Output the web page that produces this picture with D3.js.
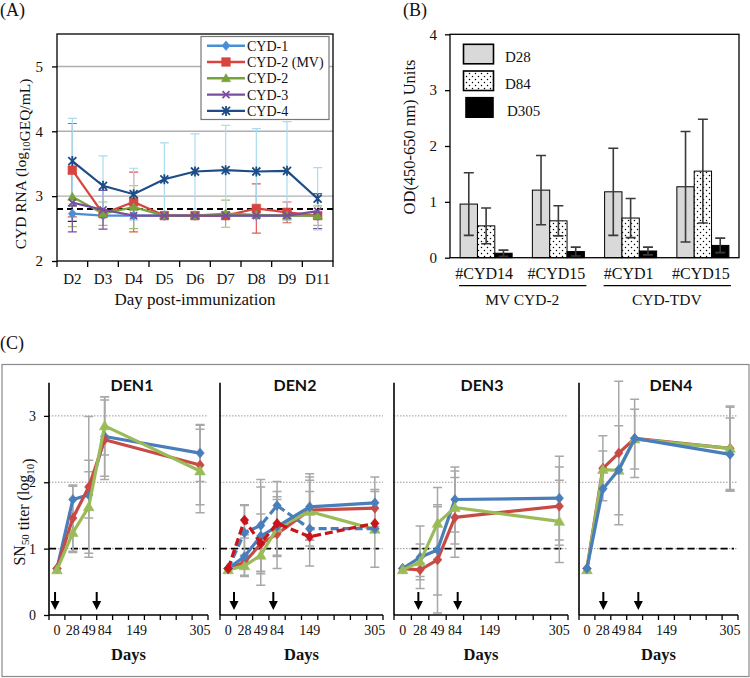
<!DOCTYPE html>
<html><head><meta charset="utf-8">
<script src="https://cdn.jsdelivr.net/npm/d3@7"></script>
<style>body{margin:0;background:#fff} svg{display:block;font-family:"Liberation Serif","Times New Roman",serif} text{fill:#111}</style>
</head><body><svg id="c" width="750" height="678"></svg>
<script>
// ================= DATA =================
// Panel A : viremia
const aDays = ["D2","D3","D4","D5","D6","D7","D8","D9","D11"];
const aNames = ["CYD-1","CYD-2 (MV)","CYD-2","CYD-3","CYD-4"];
const aCyd1     = [2.73,2.70,2.70,2.70,2.70,2.70,2.70,2.70,2.70];
const aCyd1Err  = [0.12,0,0,0,0,0,0,0,0];
const aCyd2mv   = [3.40,2.73,2.91,2.70,2.70,2.70,2.81,2.75,2.70];
const aCyd2mvErr= [0.72,0,0.46,0,0,0,0.38,0.16,0.05];
const aCyd2     = [2.99,2.73,2.83,2.70,2.70,2.73,2.71,2.70,2.70];
const aCyd2Err  = [0.46,0.18,0.33,0,0,0.21,0,0.07,0.15];
const aCyd3     = [2.90,2.79,2.70,2.70,2.70,2.70,2.70,2.70,2.77];
const aCyd3Err  = [0.45,0.30,0,0,0,0,0,0,0.27];
const aCyd4     = [3.54,3.16,3.03,3.26,3.38,3.40,3.38,3.39,2.96];
const aCyd4Err  = [0.66,0.46,0.40,0.56,0.58,0.69,0.66,0.76,0.48];
const aYTicks = [2,3,4,5];
const aThreshold = 2.8;

// Panel B : ELISA
const bGroups = ["#CYD14","#CYD15","#CYD1","#CYD15"];
const bVaccines = ["MV CYD-2","CYD-TDV"];
const bTimepoints = ["D28","D84","D305"];
const bD28     = [0.96,1.21,1.18,1.27];
const bD28Err  = [0.56,0.62,0.78,0.99];
const bD84     = [0.57,0.66,0.71,1.55];
const bD84Err  = [0.32,0.27,0.35,0.93];
const bD305    = [0.08,0.11,0.12,0.22];
const bD305Err = [0.055,0.08,0.07,0.13];
const bYTicks = [0,1,2,3,4];

// Panel C : SN50 titers
const cDays  = [0,28,49,84,149,305];
const cSlots = ["0","28","49","84","","149","","","","305"];
const cPanels = ["DEN1","DEN2","DEN3","DEN4"];
const cYTicks = [0,1,2,3];
const cThreshold = 1;
const den1Blue  = [0.70,1.74,1.81,2.69,null,2.44], den1BlueErr  = [0,0.20,0.35,0.60,0,0.43];
const den1Red   = [0.70,1.46,1.93,2.64,null,2.26], den1RedErr   = [0,0.50,1.06,0.60,0,0.60];
const den1Green = [0.68,1.24,1.63,2.85,null,2.17], den1GreenErr = [0,0.30,0.70,0.44,0,0.63];
const den2Blue  = [0.70,0.88,1.19,1.33,1.63,1.69], den2BlueErr  = [0,0.28,0.74,0.45,0.50,0.39];
const den2Red   = [0.70,0.79,1.07,1.22,1.58,1.61], den2RedErr   = [0,0,0.45,0.52,0.45,0.28];
const den2Green = [0.68,0.74,0.90,1.31,1.56,1.29], den2GreenErr = [0,0.16,0.25,0,0.52,0.57];
const den2BlueDash = [0.70,1.24,1.35,1.65,1.30,1.30], den2BlueDashErr = [0,0.42,0.69,0.36,0.56,0];
const den2RedDash  = [0.70,1.43,1.08,1.38,1.18,1.38], den2RedDashErr  = [0,0.22,0,0.48,0,0];
const den3Blue  = [0.70,0.87,0.98,1.74,null,1.76], den3BlueErr  = [0,0.47,0.68,0.49,0,0.63];
const den3Red   = [0.70,0.68,0.83,1.47,null,1.64], den3RedErr   = [0,0.10,0.80,0.60,0,0.59];
const den3Green = [0.68,0.80,1.38,1.62,null,1.41], den3GreenErr = [0,0.27,0.54,0.55,0,0.62];
const den4Red   = [0.70,2.21,2.44,2.66,null,2.51], den4RedErr   = [0,0.49,1.08,0.59,0,0.64];
const den4Green = [0.68,2.19,2.18,2.65,null,2.51], den4GreenErr = [0,0.28,0.67,0.45,0,0.62];
const den4Blue  = [0.70,1.90,2.19,2.66,null,2.42], den4BlueErr  = [0,0,0,0,0,0.55];

// ================= DRAWING =================
const SERIF = '"Liberation Serif","Times New Roman",serif';
const SANS = 'Lato,"Open Sans",sans-serif';
const svg = d3.select("#c");
svg.append("rect").attr("width",750).attr("height",678).attr("fill","#fff");

function txt(g, x, y, s, size, anchor, opts={}){
  return g.append("text").attr("x",x).attr("y",y).attr("text-anchor",anchor||"start")
    .style("font-family",opts.family||SERIF).style("font-size",size+"px")
    .style("font-weight",opts.bold?"bold":"normal").text(s);
}
function markerPath(type, s){
  switch(type){
    case "diamond": return `M0,${-s*1.2}L${s},0L0,${s*1.2}L${-s},0Z`;
    case "square": return `M${-s},${-s}H${s}V${s}H${-s}Z`;
    case "triangle": return `M0,${-s*1.15}L${s*1.15},${s*0.85}L${-s*1.15},${s*0.85}Z`;
    case "x": return `M${-s},${-s}L${s},${s}M${-s},${s}L${s},${-s}`;
    case "asterisk": return `M${-s},${-s}L${s},${s}M${-s},${s}L${s},${-s}M0,${-s*1.25}V${s*1.25}`;
  }
}
function drawMarker(g, type, cx, cy, s, color){
  const stroke = (type==="x"||type==="asterisk");
  g.append("path").attr("d",markerPath(type,s)).attr("transform",`translate(${cx},${cy})`)
    .attr("fill",stroke?"none":color).attr("stroke",color).attr("stroke-width",stroke?1.8:0.6);
}
function errBar(g, cx, v, e, y, color, capW, sw, minV){
  if(!e || v==null) return;
  const lo = Math.max(v-e, minV);
  const yT = y(v+e), yB = y(lo);
  g.append("path").attr("d",`M${cx},${yT}V${yB}M${cx-capW},${yT}H${cx+capW}M${cx-capW},${yB}H${cx+capW}`)
    .attr("stroke",color).attr("stroke-width",sw).attr("fill","none");
}
function rotTitle(parts, x, y, size){
  const t = svg.append("text").attr("transform",`translate(${x},${y}) rotate(-90)`)
    .attr("text-anchor","middle").style("font-family",SERIF).style("font-size",size+"px");
  parts.forEach(p=>{
    if(p.sub){ t.append("tspan").style("font-size",(size*0.68)+"px").attr("dy",size*0.28).text(p.t);
               t.append("tspan").attr("dy",-size*0.28).text(""); }
    else t.append("tspan").text(p.t);
  });
}
function styleAxisText(ax, size){
  ax.selectAll("text").style("font-family",SERIF).style("font-size",size+"px").attr("fill","#111");
}

// ---------- Panel A ----------
(function(){
  const L=57,R=333,T=34,B=261;
  const g = svg.append("g");
  const x = d3.scaleBand().domain(aDays).range([L,R]);
  const y = d3.scaleLinear().domain([2,5.5]).range([B,T]);
  txt(svg,0,16,"(A)",18);
  g.selectAll(".ga").data(aYTicks.filter(d=>d>2)).join("line")
    .attr("x1",L).attr("x2",R).attr("y1",d=>y(d)).attr("y2",d=>y(d)).attr("stroke","#b0b0b0").attr("stroke-width",1.4);
  const series = [
    {n:aNames[0], v:aCyd1,   e:aCyd1Err,   c:"#4a8fd6", ec:"#2a2a40", m:"diamond",  s:4},
    {n:aNames[1], v:aCyd2mv, e:aCyd2mvErr, c:"#d8443f", ec:"#e05a55", m:"square",   s:4.3},
    {n:aNames[2], v:aCyd2,   e:aCyd2Err,   c:"#78a23a", ec:"#9cc167", m:"triangle", s:4},
    {n:aNames[3], v:aCyd3,   e:aCyd3Err,   c:"#7a4d9e", ec:"#7a4d9e", m:"x",        s:3.5},
    {n:aNames[4], v:aCyd4,   e:aCyd4Err,   c:"#1d4c86", ec:"#a9dcef", m:"asterisk", s:4}
  ];
  const cx = d => x(d)+x.bandwidth()/2;
  series.forEach(s=> s.v.forEach((v,i)=> errBar(g,cx(aDays[i]),v,s.e[i],y,s.ec,4.5,1.2,2)));
  g.append("line").attr("x1",L).attr("x2",R).attr("y1",y(aThreshold)).attr("y2",y(aThreshold))
    .attr("stroke","#000").attr("stroke-width",2).attr("stroke-dasharray","6,4");
  const line = d3.line().x((v,i)=>cx(aDays[i])).y(v=>y(v));
  series.forEach(s=>{
    g.append("path").attr("d",line(s.v)).attr("fill","none").attr("stroke",s.c).attr("stroke-width",2.2);
    s.v.forEach((v,i)=>drawMarker(g,s.m,cx(aDays[i]),y(v),s.s,s.c));
  });
  g.append("rect").attr("x",L).attr("y",T).attr("width",R-L).attr("height",B-T).attr("fill","none").attr("stroke","#000").attr("stroke-width",1.3);
  const ya = g.append("g").attr("transform",`translate(${L},0)`).call(d3.axisLeft(y).tickValues(aYTicks).tickSize(5).tickPadding(9).tickFormat(d3.format("d")));
  ya.select(".domain").remove();
  styleAxisText(ya,15);
  ya.selectAll("line").attr("stroke","#000").attr("stroke-width",1.3);
  const bounds = aDays.map(d=>x(d)).concat([R]);
  g.selectAll(".xt").data(bounds).join("line").attr("x1",d=>d).attr("x2",d=>d).attr("y1",B).attr("y2",B+6).attr("stroke","#000").attr("stroke-width",1.3);
  const xa = g.append("g").attr("transform",`translate(0,${B})`).call(d3.axisBottom(x).tickSize(0).tickPadding(12));
  xa.select(".domain").remove();
  styleAxisText(xa,15);
  txt(svg,195,305,"Day post-immunization",17,"middle");
  rotTitle([{t:"CYD RNA (log"},{t:"10",sub:true},{t:"GEQ/mL)"}],26,164,15.5);
  const lg = g.append("g");
  lg.append("rect").attr("x",201).attr("y",36.5).attr("width",128).attr("height",83).attr("fill","#fff").attr("stroke","#777").attr("stroke-width",1.2);
  series.forEach((s,i)=>{
    const yy = 45.7 + i*16.3;
    lg.append("line").attr("x1",207).attr("x2",245).attr("y1",yy).attr("y2",yy).attr("stroke",s.c).attr("stroke-width",2.4);
    drawMarker(lg,s.m,226,yy,s.s,s.c);
    txt(lg,247,yy+5,s.n,14);
  });
})();

// ---------- Panel B ----------
(function(){
  const L=450,R=739,T=34.3,B=257.7;
  const g = svg.append("g");
  txt(svg,403,16,"(B)",18);
  const defs = svg.append("defs");
  const pat = defs.append("pattern").attr("id","dots").attr("patternUnits","userSpaceOnUse").attr("width",6).attr("height",6);
  pat.append("rect").attr("width",6).attr("height",6).attr("fill","#fff");
  pat.append("circle").attr("cx",1.5).attr("cy",1.5).attr("r",0.75).attr("fill","#000");
  pat.append("circle").attr("cx",4.5).attr("cy",4.5).attr("r",0.75).attr("fill","#000");
  const x0 = d3.scaleBand().domain(d3.range(bGroups.length)).range([L,R]).paddingInner(0.28).paddingOuter(0.14);
  const x1 = d3.scaleBand().domain(bTimepoints).range([0,x0.bandwidth()]);
  const y = d3.scaleLinear().domain([0,4]).range([B,T]);
  const vals = {D28:[bD28,bD28Err], D84:[bD84,bD84Err], D305:[bD305,bD305Err]};
  const fills = {D28:"#d9d9d9", D84:"url(#dots)", D305:"#000"};
  bTimepoints.forEach(tp=>{
    const [v]=vals[tp];
    v.forEach((d,i)=>{
      g.append("rect").attr("x",x0(i)+x1(tp)).attr("y",y(d)).attr("width",x1.bandwidth()).attr("height",y(0)-y(d))
        .attr("fill",fills[tp]).attr("stroke","#000").attr("stroke-width",1);
    });
  });
  bTimepoints.forEach(tp=>{
    const [v,e]=vals[tp];
    v.forEach((d,i)=> errBar(g, x0(i)+x1(tp)+x1.bandwidth()/2, d, e[i], y, "#3a3a3a", 5, 1.6, 0));
  });
  g.append("rect").attr("x",L).attr("y",T).attr("width",R-L).attr("height",B-T).attr("fill","none").attr("stroke","#000").attr("stroke-width",1.3);
  const ya = g.append("g").attr("transform",`translate(${L},0)`).call(d3.axisLeft(y).tickValues(bYTicks).tickSize(5).tickPadding(8).tickFormat(d3.format("d")));
  ya.select(".domain").remove();
  styleAxisText(ya,15);
  ya.selectAll("line").attr("stroke","#000").attr("stroke-width",1.3);
  bGroups.forEach((n,i)=> txt(g,x0(i)+x0.bandwidth()/2-2,278.5,n,16,"middle"));
  bVaccines.forEach((n,k)=>{
    const a = x0(2*k), b = x0(2*k+1)+x0.bandwidth();
    g.append("line").attr("x1",a-1).attr("x2",b+2).attr("y1",285.7).attr("y2",285.7).attr("stroke","#000").attr("stroke-width",1.3);
    txt(g,(a+b)/2,305,n,15.5,"middle");
  });
  rotTitle([{t:"OD(450-650 nm) Units"}],415,137,16.5);
  bTimepoints.forEach((tp,i)=>{
    const yy = 44.3 + i*26.7;
    g.append("rect").attr("x",i===2?466:463.5).attr("y",yy).attr("width",i===2?27:30).attr("height",19.5)
      .attr("fill",fills[tp]).attr("stroke","#000").attr("stroke-width",1.6);
    txt(g,i===2?507:505,yy+18,tp,15);
  });
})();

// ---------- Panel C ----------
(function(){
  txt(svg,0,349,"(C)",18);
  svg.append("rect").attr("x",2).attr("y",364.5).attr("width",747).attr("height",312).attr("fill","none").attr("stroke","#8a8a8a").attr("stroke-width",1.2);
  const BLUE="#4a7ebb", RED="#c84a45", GREEN="#9bbb59", DRED="#c8141a";
  const layout = [
    {x0:49, x1:208, tx:132, dash0:0,   arrows:[0.38,3.0],  yLabels:true},
    {x0:220,x1:383, tx:295, dash0:0,   arrows:[0.86,3.27], yLabels:false},
    {x0:394,x1:568, tx:482, dash0:1.0, arrows:[1.40,3.66], yLabels:false},
    {x0:579,x1:738, tx:671, dash0:1.3, arrows:[1.53,3.73], yLabels:false}
  ];
  const seriesByPanel = [
    [{v:den1Blue,e:den1BlueErr,c:BLUE,m:"diamond"},{v:den1Red,e:den1RedErr,c:RED,m:"diamond"},{v:den1Green,e:den1GreenErr,c:GREEN,m:"triangle"}],
    [{v:den2Red,e:den2RedErr,c:RED,m:"diamond"},{v:den2Green,e:den2GreenErr,c:GREEN,m:"triangle"},{v:den2Blue,e:den2BlueErr,c:BLUE,m:"diamond"},
     {v:den2BlueDash,e:den2BlueDashErr,c:BLUE,m:"diamond",dash:true},{v:den2RedDash,e:den2RedDashErr,c:DRED,m:"diamond",dash:true}],
    [{v:den3Red,e:den3RedErr,c:RED,m:"diamond"},{v:den3Blue,e:den3BlueErr,c:BLUE,m:"diamond"},{v:den3Green,e:den3GreenErr,c:GREEN,m:"triangle"}],
    [{v:den4Red,e:den4RedErr,c:RED,m:"diamond"},{v:den4Green,e:den4GreenErr,c:GREEN,m:"triangle"},{v:den4Blue,e:den4BlueErr,c:BLUE,m:"diamond"}]
  ];
  const y = d3.scaleLinear().domain([0,3.5]).range([615,382.7]);
  cPanels.forEach((name,p)=>{
    const lay = layout[p];
    const g = svg.append("g");
    const x = d3.scaleBand().domain(d3.range(cSlots.length)).range([lay.x0,lay.x1]);
    const bw = x.bandwidth();
    const xs = idx => lay.x0 + idx*bw;
    const cx = day => x(cSlots.indexOf(String(day))) + bw/2;
    g.selectAll(".gd").data(cYTicks.filter(d=>d>0)).join("line")
      .attr("x1",lay.x0).attr("x2",lay.x1).attr("y1",d=>y(d)).attr("y2",d=>y(d))
      .attr("stroke","#9a9a9a").attr("stroke-width",1).attr("stroke-dasharray","1.5,1.5");
    g.append("line").attr("x1",xs(lay.dash0)).attr("x2",xs(9.75)).attr("y1",y(cThreshold)).attr("y2",y(cThreshold))
      .attr("stroke","#000").attr("stroke-width",1.7).attr("stroke-dasharray","7,4");
    const ser = seriesByPanel[p];
    ser.forEach(s=> s.v.forEach((v,i)=> errBar(g,cx(cDays[i]),v,s.e[i],y,"#a8a8a8",4.5,1.5,0)));
    const line = d3.line().x(d=>cx(d.day)).y(d=>y(d.v));
    ser.forEach(s=>{
      const pts = cDays.map((day,i)=>({day, v:s.v[i]})).filter(d=>d.v!=null);
      g.append("path").attr("d",line(pts)).attr("fill","none").attr("stroke",s.c).attr("stroke-width",3.2)
        .attr("stroke-dasharray",s.dash?"8,4":null).attr("stroke-linejoin","round");
      pts.forEach(d=>drawMarker(g,s.m,cx(d.day),y(d.v),s.m==="triangle"?4.6:4.2,s.c));
    });
    g.append("line").attr("x1",lay.x0).attr("x2",lay.x0).attr("y1",y(3.5)).attr("y2",y(0)).attr("stroke","#000").attr("stroke-width",1.6);
    g.append("line").attr("x1",lay.x0).attr("x2",lay.x1).attr("y1",y(0)).attr("y2",y(0)).attr("stroke","#000").attr("stroke-width",1.6);
    g.selectAll(".xt").data(d3.range(cSlots.length+1)).join("line")
      .attr("x1",d=>xs(d)).attr("x2",d=>xs(d)).attr("y1",y(0)).attr("y2",y(0)+5).attr("stroke","#000").attr("stroke-width",1.3);
    if(lay.yLabels){
      const ya = g.append("g").attr("transform",`translate(${lay.x0},0)`).call(d3.axisLeft(y).tickValues(cYTicks).tickSize(5).tickPadding(8).tickFormat(d3.format("d")));
      ya.select(".domain").remove();
      styleAxisText(ya,14);
      ya.selectAll("line").attr("stroke","#000").attr("stroke-width",1.3);
    }
    cSlots.forEach((lab,i)=>{ if(lab) txt(g,x(i)+bw/2,635,lab,14,"middle"); });
    txt(g,(lay.x0+lay.x1)/2,660,"Days",16.5,"middle",{bold:true});
    txt(g,lay.tx,391,name,16,"middle",{family:SANS,bold:true});
    lay.arrows.forEach(a=>{
      const ax = xs(a);
      g.append("line").attr("x1",ax).attr("x2",ax).attr("y1",592).attr("y2",603).attr("stroke","#000").attr("stroke-width",2);
      g.append("path").attr("d",`M${ax-4.5},${601}L${ax+4.5},${601}L${ax},${610}Z`).attr("fill","#000");
    });
  });
  rotTitle([{t:"SN"},{t:"50",sub:true},{t:" titer (log"},{t:"10",sub:true},{t:")"}],25,512,16);
})();
</script></body></html>
